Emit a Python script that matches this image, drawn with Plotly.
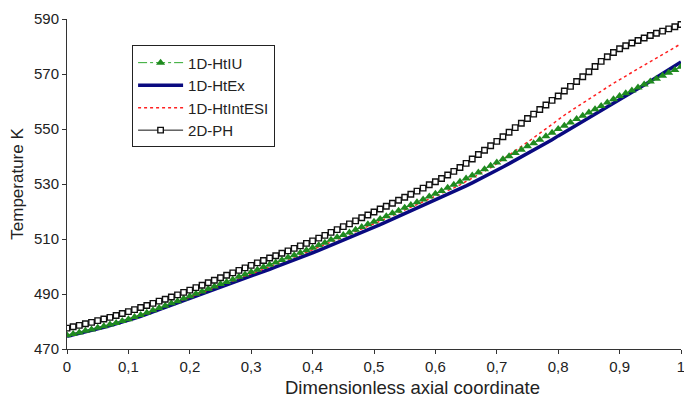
import plotly.graph_objects as go

# axial coordinate, 0..1 step 0.01
x_coord = [i / 100 for i in range(101)]

t_htex = [
    474.6, 475.1, 475.6, 476.2, 476.7, 477.3, 477.9, 478.5, 479.1, 479.8,
    480.4, 481.2, 481.9, 482.7, 483.5, 484.3, 485.1, 485.9, 486.7, 487.6,
    488.4, 489.2, 490.0, 490.8, 491.6, 492.4, 493.2, 494.0, 494.9, 495.7,
    496.5, 497.3, 498.2, 499.0, 499.9, 500.7, 501.6, 502.4, 503.3, 504.1,
    505.0, 505.9, 506.8, 507.8, 508.7, 509.6, 510.5, 511.5, 512.4, 513.4,
    514.3, 515.2, 516.2, 517.2, 518.1, 519.1, 520.1, 521.0, 522.0, 523.0,
    524.0, 525.0, 526.0, 527.1, 528.2, 529.3, 530.4, 531.5, 532.7, 533.8,
    535.0, 536.2, 537.4, 538.6, 539.8, 541.0, 542.2, 543.5, 544.8, 546.1,
    547.5, 548.8, 550.1, 551.4, 552.7, 554.0, 555.3, 556.6, 557.9, 559.2,
    560.5, 561.8, 563.2, 564.6, 566.0, 567.4, 568.8, 570.2, 571.6, 573.0,
    574.4,
]

t_htiu = [
    475.0, 475.5, 476.0, 476.6, 477.1, 477.7, 478.3, 478.9, 479.5, 480.2,
    480.8, 481.6, 482.4, 483.2, 484.1, 484.9, 485.7, 486.6, 487.4, 488.4,
    489.2, 490.1, 490.9, 491.8, 492.7, 493.6, 494.4, 495.3, 496.3, 497.1,
    498.0, 498.8, 499.8, 500.6, 501.5, 502.4, 503.3, 504.1, 505.0, 505.9,
    506.8, 507.7, 508.6, 509.7, 510.6, 511.5, 512.4, 513.4, 514.4, 515.4,
    516.3, 517.3, 518.3, 519.4, 520.3, 521.4, 522.4, 523.4, 524.4, 525.5,
    526.5, 527.5, 528.6, 529.7, 530.8, 532.0, 533.1, 534.2, 535.4, 536.6,
    537.8, 539.0, 540.1, 541.3, 542.5, 543.7, 544.8, 546.1, 547.4, 548.6,
    550.0, 551.2, 552.4, 553.6, 554.8, 556.0, 557.2, 558.4, 559.6, 560.8,
    562.0, 563.0, 564.0, 565.1, 566.2, 567.3, 568.3, 569.4, 570.5, 571.5,
    572.6,
]

t_htintesi = [
    474.9, 475.4, 475.9, 476.5, 477.0, 477.6, 478.2, 478.8, 479.4, 480.1,
    480.7, 481.5, 482.2, 483.0, 483.8, 484.7, 485.5, 486.3, 487.1, 488.0,
    488.9, 489.7, 490.6, 491.4, 492.2, 493.1, 493.9, 494.7, 495.7, 496.5,
    497.4, 498.2, 499.1, 499.9, 500.9, 501.7, 502.6, 503.4, 504.3, 505.2,
    506.1, 507.0, 507.9, 509.0, 509.9, 510.8, 511.7, 512.7, 513.6, 514.6,
    515.5, 516.5, 517.5, 518.5, 519.4, 520.5, 521.5, 522.4, 523.4, 524.5,
    525.5, 526.5, 527.5, 528.6, 529.7, 530.9, 532.0, 533.2, 534.5, 535.9,
    537.4, 538.9, 540.4, 542.0, 543.6, 545.2, 546.8, 548.5, 550.1, 551.8,
    553.5, 555.0, 556.5, 558.0, 559.5, 561.0, 562.4, 563.8, 565.2, 566.6,
    568.0, 569.3, 570.6, 571.9, 573.2, 574.5, 575.8, 577.1, 578.4, 579.7,
    581.0,
]

t_2dph = [
    477.6, 478.1, 478.6, 479.2, 479.7, 480.3, 480.9, 481.5, 482.2, 482.9,
    483.6, 484.3, 485.1, 485.8, 486.6, 487.4, 488.1, 488.9, 489.7, 490.6,
    491.4, 492.3, 493.2, 494.1, 495.0, 495.9, 496.8, 497.7, 498.6, 499.5,
    500.4, 501.3, 502.2, 503.1, 503.9, 504.8, 505.7, 506.6, 507.5, 508.4,
    509.3, 510.3, 511.3, 512.4, 513.4, 514.5, 515.5, 516.6, 517.7, 518.7,
    519.8, 520.9, 521.9, 523.0, 524.1, 525.2, 526.3, 527.4, 528.5, 529.7,
    530.8, 532.0, 533.3, 534.6, 536.0, 537.5, 539.1, 540.7, 542.3, 543.9,
    545.5, 547.2, 548.8, 550.5, 552.1, 553.8, 555.4, 557.1, 558.7, 560.4,
    562.0, 563.8, 565.5, 567.3, 569.0, 570.8, 572.7, 574.6, 576.3, 577.8,
    579.2, 580.3, 581.3, 582.2, 583.1, 584.0, 584.8, 585.6, 586.4, 587.2,
    588.0,
]

x_ticks = [0, 0.1, 0.2, 0.3, 0.4, 0.5, 0.6, 0.7, 0.8, 0.9, 1]
x_tick_text = ["0", "0,1", "0,2", "0,3", "0,4", "0,5", "0,6", "0,7", "0,8", "0,9", "1"]
y_ticks = [470, 490, 510, 530, 550, 570, 590]

FONT = "Liberation Sans, Arial, sans-serif"

fig = go.Figure()

# drawing order: blue underneath, then red, green, black on top
fig.add_trace(go.Scatter(
    x=x_coord, y=t_htex, name="1D-HtEx", mode="lines", legendrank=2,
    line=dict(color="#0a0a80", width=3.5),
))
fig.add_trace(go.Scatter(
    x=x_coord, y=t_htintesi, name="1D-HtIntESI", mode="lines", legendrank=3,
    line=dict(color="#ff2020", width=1.5, dash="dot"),
))
fig.add_trace(go.Scatter(
    x=x_coord, y=t_htiu, name="1D-HtIU", mode="lines+markers", legendrank=1,
    line=dict(color="#2ea82e", width=1, dash="dashdot"),
    marker=dict(symbol="triangle-up", size=8, color="#1f8a1f"),
))
fig.add_trace(go.Scatter(
    x=x_coord, y=t_2dph, name="2D-PH", mode="lines+markers", legendrank=4,
    line=dict(color="#111111", width=1),
    marker=dict(symbol="square", size=5.5, color="white",
                line=dict(color="#111111", width=1.4)),
))

fig.update_layout(
    width=684, height=401,
    margin=dict(l=67, r=3, t=19, b=52, autoexpand=False),
    paper_bgcolor="white", plot_bgcolor="white",
    font=dict(family=FONT, size=14, color="#222222"),
    showlegend=True,
    legend=dict(
        x=0.106, y=0.92, xanchor="left", yanchor="top",
        bgcolor="white", bordercolor="#222222", borderwidth=1,
        font=dict(family=FONT, size=15, color="#222222"),
        tracegroupgap=3, itemwidth=45,
    ),
)

# x title sits a little right of the plot centre in the original
fig.add_annotation(
    text="Dimensionless axial coordinate", xref="paper", yref="paper",
    x=0.562, y=-0.078, xanchor="center", yanchor="top", showarrow=False,
    font=dict(family=FONT, size=18.5, color="#222222"),
)

fig.update_xaxes(
    range=[0, 1], tickvals=x_ticks, ticktext=x_tick_text,
    showgrid=False, zeroline=False, automargin=False,
    showline=True, linecolor="#333333", linewidth=1,
    ticks="outside", ticklen=4, tickcolor="#333333",
    tickfont=dict(size=15), ticklabeloverflow="allow",
)
fig.update_yaxes(
    range=[470, 590], tickvals=y_ticks,
    showgrid=False, zeroline=False, automargin=False,
    showline=True, linecolor="#333333", linewidth=1,
    ticks="outside", ticklen=4, tickcolor="#333333",
    tickfont=dict(size=15),
    title=dict(text="Temperature K", font=dict(size=17), standoff=6),
)

# drop the default page margin so the figure sits at the window's corner
fig.write_html("out.html", config={"displayModeBar": False},
               post_script="document.body.style.margin='0';")
